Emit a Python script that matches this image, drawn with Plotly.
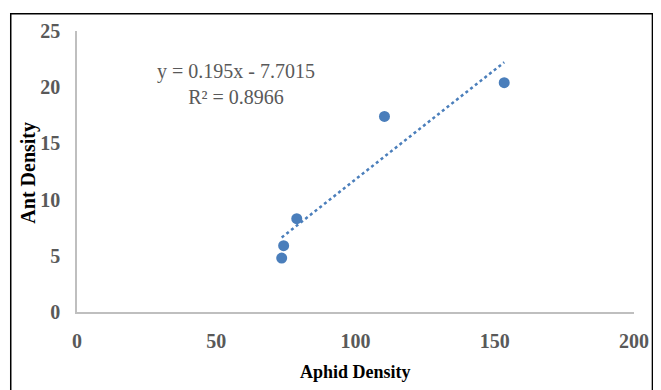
import numpy as np
import plotly.graph_objects as go

aphid_density = [73.5, 74.2, 78.9, 110.4, 153.4]
ant_density = [4.8, 5.9, 8.3, 17.4, 20.4]
slope = 0.195
intercept = -7.7015
r_squared = 0.8966
x_ticks = [0, 50, 100, 150, 200]
y_ticks = [0, 5, 10, 15, 20, 25]

blue = "#4A7EBB"
gray_text = "#595959"
axis_gray = "#BFBFBF"
serif = "Liberation Serif, Times New Roman, serif"

# page offset (body margin) compensation
OFF = 8
W, H = 661 - OFF, 390 - OFF
L, T = 77 - OFF, 28 - OFF
R_EDGE, B_EDGE = 636 - OFF, 312 - OFF
PW, PH = R_EDGE - L, B_EDGE - T


def px(xp):
    return (xp - OFF - L) / PW


def py(yp):
    return (B_EDGE - (yp - OFF)) / PH


tx = [min(aphid_density), max(aphid_density)]
ty = [slope * v + intercept for v in tx]

fig = go.Figure()
fig.add_trace(go.Scatter(x=tx, y=ty, mode="lines",
                         line=dict(color=blue, width=2.5, dash="dot"),
                         hoverinfo="skip", showlegend=False))
fig.add_trace(go.Scatter(x=aphid_density, y=ant_density, mode="markers",
                         marker=dict(color=blue, size=11), showlegend=False))

fig.update_layout(
    width=W, height=H,
    margin=dict(l=L, r=W - R_EDGE, t=T, b=H - B_EDGE),
    paper_bgcolor="white", plot_bgcolor="white",
    font=dict(family=serif),
)
fig.update_xaxes(range=[0, 200], tickvals=x_ticks, showgrid=False, zeroline=False,
                 showline=True, linecolor=axis_gray, linewidth=1.5,
                 ticks="outside", ticklen=0, ticklabelstandoff=10,
                 tickfont=dict(family=serif, size=20, color=gray_text, weight="bold"))
fig.update_yaxes(range=[0, 25], tickvals=y_ticks, showgrid=False, zeroline=False,
                 showline=True, linecolor=axis_gray, linewidth=1.5,
                 ticks="outside", ticklen=0, ticklabelstandoff=11,
                 tickfont=dict(family=serif, size=20, color=gray_text, weight="bold"))

fig.add_annotation(x=px(357), y=py(373), xref="paper", yref="paper",
                   xanchor="center", yanchor="middle",
                   text="<b>Aphid Density</b>", showarrow=False,
                   font=dict(family=serif, size=18, color="black"))
fig.add_annotation(x=px(28), y=py(171), xref="paper", yref="paper",
                   xanchor="center", yanchor="middle",
                   text="<b>Ant Density</b>", textangle=-90, showarrow=False,
                   font=dict(family=serif, size=20, color="black"))
fig.add_annotation(x=px(237), y=py(82), xref="paper", yref="paper",
                   xanchor="center", yanchor="middle", align="center", showarrow=False,
                   text=f"y = {slope}x - {abs(intercept)}<br>R² = {r_squared}",
                   font=dict(family=serif, size=20, color=gray_text))

fig.add_shape(type="rect", xref="paper", yref="paper",
              x0=px(10.5), x1=px(654.5), y0=py(400), y1=py(10.5),
              line=dict(color="black", width=1.5), fillcolor="rgba(0,0,0,0)", layer="below")

fig.write_html("out.html")
